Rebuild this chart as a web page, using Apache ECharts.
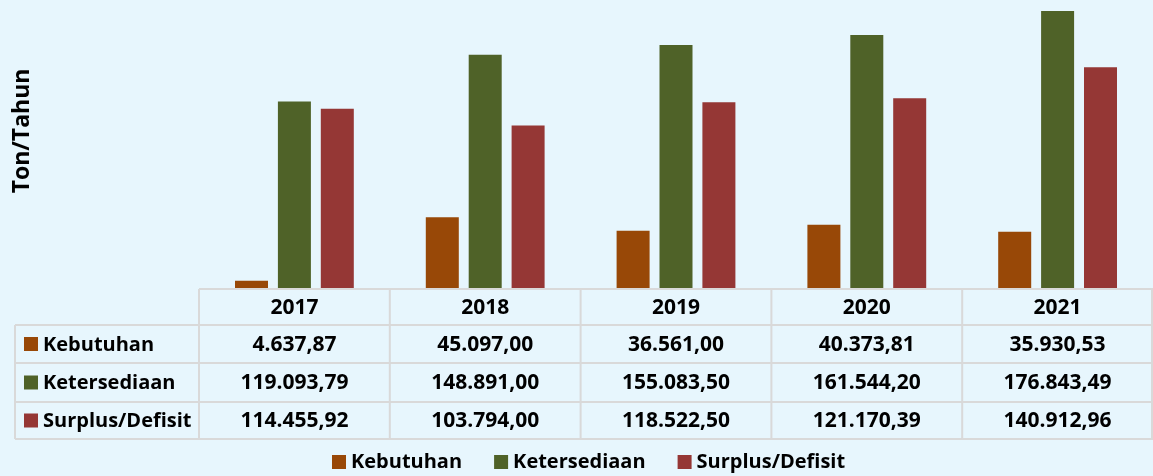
<!DOCTYPE html>
<html>
<head>
<meta charset="utf-8">
<script src="https://cdn.jsdelivr.net/npm/echarts@6/dist/echarts.min.js"></script>
<style>
  html, body { margin: 0; background: #E7F6FD; }
  #chart { width: 1153px; height: 476px; }
</style>
</head>
<body>
<div id="chart"></div>
<script>
const years = ['2017', '2018', '2019', '2020', '2021']
const seriesNames = ['Kebutuhan', 'Ketersediaan', 'Surplus/Defisit']
const kebutuhan = [4637.87, 45097.00, 36561.00, 40373.81, 35930.53]
const ketersediaan = [119093.79, 148891.00, 155083.50, 161544.20, 176843.49]
const surplus = [114455.92, 103794.00, 118522.50, 121170.39, 140912.96]
const colors = ['#984807', '#4F6228', '#953735']

const FONT = '"Open Sans"'
const lineColor = '#D9D9D9'

// Indonesian style: 119.093,79
const fmt = v => {
  const [i, d] = v.toFixed(2).split('.')
  return i.replace(/\B(?=(\d{3})+(?!\d))/g, '.') + ',' + d
}

const chart = echarts.init(document.getElementById('chart'))

const gridLeft = 199
const gridBottomY = 288
const rowLines = [289, 325, 363, 402, 439]

chart.setOption({
  backgroundColor: '#E7F6FD',
  textStyle: {fontFamily: FONT},
  grid: {left: gridLeft, right: 0, top: 6, bottom: 476 - gridBottomY},
  xAxis: {
    type: 'category',
    data: years,
    axisLine: {show: false},
    axisTick: {show: false},
    axisLabel: {show: false},
  },
  yAxis: {
    type: 'value',
    min: 0,
    max: 180000,
    show: false,
  },
  legend: {
    data: seriesNames,
    icon: 'rect',
    itemWidth: 14,
    itemHeight: 14,
    itemGap: 32,
    top: 452,
    left: 332,
    padding: 0,
    textStyle: {fontFamily: FONT, fontSize: 20, fontWeight: 'bold', color: '#000'},
  },
  series: [kebutuhan, ketersediaan, surplus].map((data, i) => ({
    name: seriesNames[i],
    type: 'bar',
    data,
    barWidth: 33,
    barGap: '30%',
    itemStyle: {color: colors[i]},
  })),
})

// data table under the plot
const rows = [kebutuhan, ketersediaan, surplus]
const elements = []
const x0 = chart.convertToPixel({xAxisIndex: 0}, 0)
const x1 = chart.convertToPixel({xAxisIndex: 0}, 1)
const band = x1 - x0
const rightX = 1153

const hline = (xa, xb, y) => ({
  type: 'line', shape: {x1: xa, y1: y, x2: xb, y2: y},
  style: {stroke: lineColor, lineWidth: 2}, silent: true,
})
const vline = (x, ya, yb) => ({
  type: 'line', shape: {x1: x, y1: ya, x2: x, y2: yb},
  style: {stroke: lineColor, lineWidth: 2}, silent: true,
})

elements.push(hline(gridLeft, rightX, rowLines[0]))
for (let r = 1; r < rowLines.length; r++) elements.push(hline(15, rightX, rowLines[r]))
elements.push(vline(15, rowLines[1], rowLines[4]))
for (let c = 0; c <= years.length; c++) {
  elements.push(vline(Math.min(gridLeft + c * band, rightX - 1), rowLines[0], rowLines[4]))
}

const cellText = (x, y, text, align, size) => ({
  type: 'text', x, y, silent: true,
  style: {
    text, fill: '#000', font: `bold ${size || 21}px ${FONT}`,
    align: align || 'center', verticalAlign: 'middle',
  },
})

years.forEach((yr, c) => {
  const cx = chart.convertToPixel({xAxisIndex: 0}, c)
  elements.push(cellText(cx, (rowLines[0] + rowLines[1]) / 2 + 1, yr))
  rows.forEach((vals, r) => {
    elements.push(cellText(cx, (rowLines[r + 1] + rowLines[r + 2]) / 2 + 1, fmt(vals[c])))
  })
})

seriesNames.forEach((name, r) => {
  const cy = (rowLines[r + 1] + rowLines[r + 2]) / 2
  elements.push({
    type: 'rect', shape: {x: 24, y: cy - 7, width: 14, height: 14},
    style: {fill: colors[r]}, silent: true,
  })
  elements.push(cellText(43, cy + 1, name, 'left', 20))
})

elements.push({
  type: 'text', x: 22, y: 131, rotation: Math.PI / 2, silent: true,
  style: {
    text: 'Ton/Tahun', fill: '#000', font: `bold 23px ${FONT}`,
    align: 'center', verticalAlign: 'middle',
  },
})

chart.setOption({graphic: {elements}})
</script>
</body>
</html>
